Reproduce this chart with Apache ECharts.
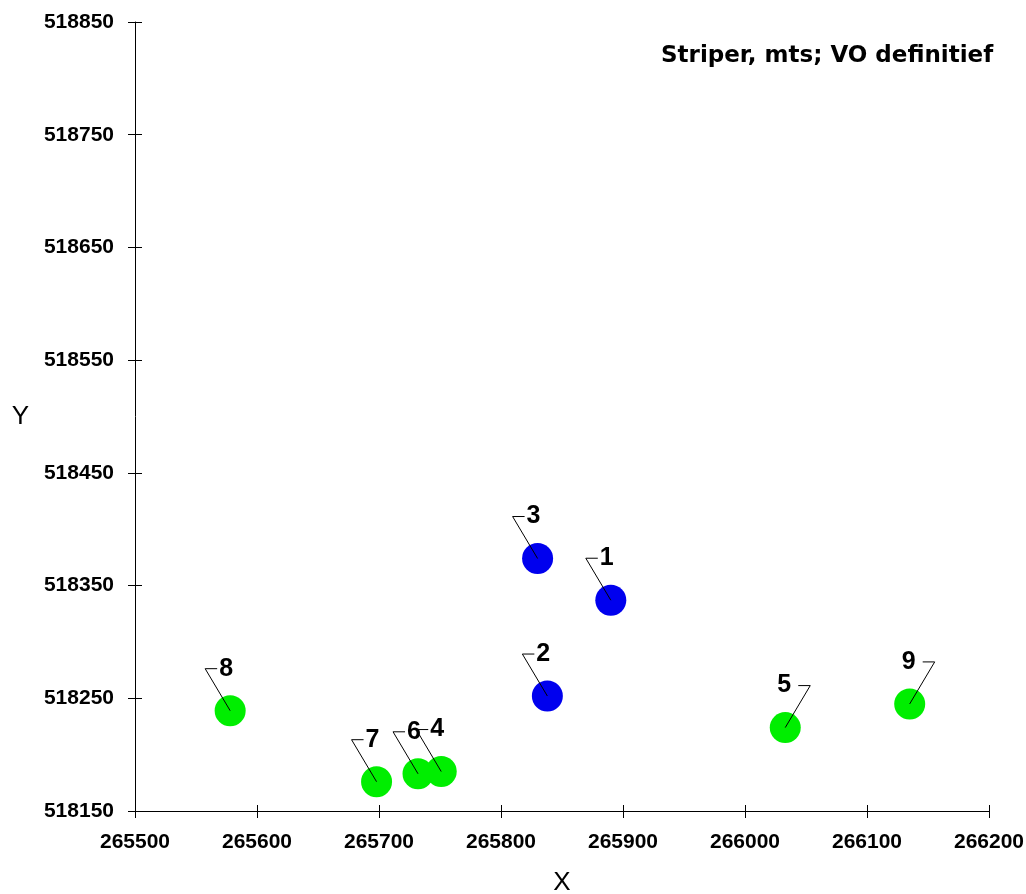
<!DOCTYPE html>
<html><head><meta charset="utf-8">
<script src="https://cdn.jsdelivr.net/npm/echarts@6/dist/echarts.min.js"></script>
<style>html,body{margin:0;padding:0;background:#fff;overflow:hidden}#c{width:1026px;height:894px}</style>
</head><body><div id="c"></div>
<script>
// Data
const pointIds   = ['1','2','3','4','5','6','7','8','9'];
const pointX     = [265890, 265838, 265830, 265751, 266033, 265732, 265698, 265578, 266135];
const pointY     = [518337, 518252, 518374, 518185, 518224, 518183, 518176, 518239, 518245];
const pointGroup = ['blue','blue','blue','green','green','green','green','green','green'];
const xTicks = [265500, 265600, 265700, 265800, 265900, 266000, 266100, 266200];
const yTicks = [518150, 518250, 518350, 518450, 518550, 518650, 518750, 518850];
const titleText = 'Striper, mts; VO definitief';

// label side (style)
const labelSide = {'1':'L','2':'L','3':'L','4':'L','5':'R','6':'L','7':'L','8':'L','9':'R'};

const FONT = '"Liberation Sans", Arial, sans-serif';
const blueData = [], greenData = [], allData = [];
for (let i = 0; i < pointIds.length; i++) {
  const d = [pointX[i], pointY[i], pointIds[i]];
  allData.push(d);
  (pointGroup[i] === 'blue' ? blueData : greenData).push(d);
}

const chart = echarts.init(document.getElementById('c'), null, {renderer: 'canvas', width: 1026, height: 894});
const xMin = xTicks[0], xMax = xTicks[xTicks.length-1];
const yMin = yTicks[0], yMax = yTicks[yTicks.length-1];
const labelStyle = {color: '#000', fontFamily: FONT, fontWeight: 'bold', fontSize: 21};
const plain = v => String(v);

const baseX = {
  type: 'value', min: xMin, max: xMax, interval: 100,
  axisLine: {show: true, lineStyle: {color: '#000', width: 1}},
  axisTick: {show: true, length: 7, lineStyle: {color: '#000'}},
  axisLabel: Object.assign({margin: 21, formatter: plain}, labelStyle),
  splitLine: {show: false},
  name: 'X', nameLocation: 'middle', nameGap: 59,
  nameTextStyle: {color: '#000', fontFamily: FONT, fontSize: 26}
};
const baseY = {
  type: 'value', min: yMin, max: yMax, interval: 100,
  axisLine: {show: true, lineStyle: {color: '#000', width: 1}},
  axisTick: {show: true, length: 7, lineStyle: {color: '#000'}},
  axisLabel: Object.assign({margin: 21, formatter: plain}, labelStyle),
  splitLine: {show: false},
  name: 'Y', nameLocation: 'middle', nameGap: 106, nameRotate: 0,
  nameTextStyle: {color: '#000', fontFamily: FONT, fontSize: 26}
};

chart.setOption({
  animation: false,
  backgroundColor: '#fff',
  grid: {left: 135, top: 22, width: 854, height: 789, containLabel: false, outerBoundsMode: 'none'},
  graphic: [{
    type: 'text', left: 661, top: 45, z: 10,
    style: {text: titleText, fill: '#000', font: 'bold 23px "DejaVu Sans", sans-serif'}
  }],
  xAxis: [
    baseX,
    {type: 'value', min: xMin, max: xMax, interval: 100, position: 'bottom',
     axisLine: {show: false}, axisTick: {show: true, inside: true, length: 6, lineStyle: {color: '#000'}},
     axisLabel: {show: false}, splitLine: {show: false}}
  ],
  yAxis: [
    baseY,
    {type: 'value', min: yMin, max: yMax, interval: 100, position: 'left',
     axisLine: {show: false}, axisTick: {show: true, inside: true, length: 7, lineStyle: {color: '#000'}},
     axisLabel: {show: false}, splitLine: {show: false}}
  ],
  series: [
    {type: 'scatter', data: greenData, symbolSize: 31, itemStyle: {color: '#00ee00', opacity: 1}, z: 2},
    {type: 'scatter', data: blueData, symbolSize: 31, itemStyle: {color: '#0000ee', opacity: 1}, z: 2},
    {
      type: 'custom', data: allData, z: 5, silent: true,
      renderItem: function (params, api) {
        const p = api.coord([api.value(0), api.value(1)]);
        const id = allData[params.dataIndex][2];
        const right = labelSide[id] === 'R';
        const s = right ? 1 : -1;
        const elbow = [p[0] + s * 25, p[1] - 42];
        const hEnd = [p[0] + s * 13, p[1] - 42];
        return {
          type: 'group',
          children: [
            {type: 'polyline', shape: {points: [p, elbow, hEnd]},
             style: {stroke: '#000', lineWidth: 1, fill: null}},
            {type: 'text',
             style: {
               text: id, x: right ? p[0] + 6 : p[0] - 11, y: p[1] - 42,
               align: right ? 'right' : 'left', verticalAlign: 'middle',
               fill: '#000', font: 'bold 25px ' + FONT
             }}
          ]
        };
      }
    }
  ]
});
</script>
</body></html>
